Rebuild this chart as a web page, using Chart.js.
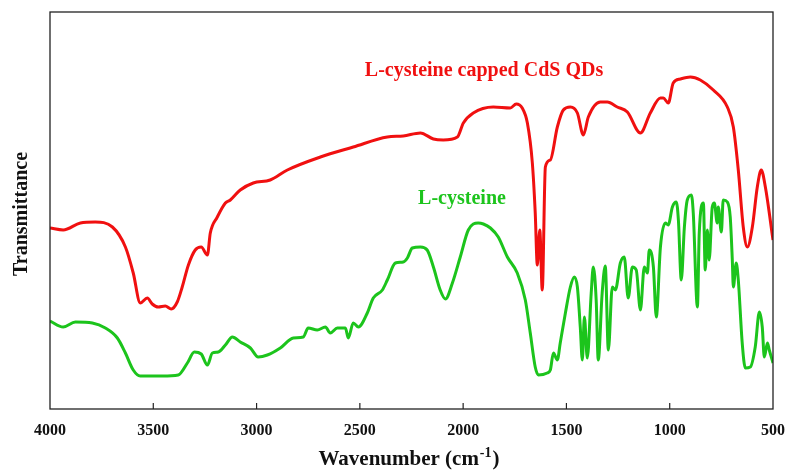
<!DOCTYPE html>
<html>
<head>
<meta charset="utf-8">
<script src="https://cdn.jsdelivr.net/npm/chart.js@4/dist/chart.umd.min.js"></script>
<style>
html,body{margin:0;padding:0;background:#fff;}
#wrap{width:788px;height:474px;position:relative;}
</style>
</head>
<body>
<div id="wrap"><canvas id="c" width="788" height="474"></canvas></div>
<script>
// FTIR spectra (wavenumber in cm-1, transmittance in arbitrary units)
const redWavenumbers = [4000,3936,3853,3781,3698,3635,3597,3563,3529,3505,3476,3442,3413,3384,3360,3330,3297,3268,3238,3224,3190,3151,3127,3079,3016,2934,2851,2691,2532,2367,2290,2207,2144,2096,2028,1999,1951,1854,1772,1743,1714,1689,1665,1651,1641,1629,1617,1602,1578,1544,1515,1481,1447,1418,1394,1336,1302,1254,1205,1142,1094,1045,1031,1007,983,949,900,852,789,721,692,668,644,624,600,576,557,537,500];
const redValues      = [181,179,186,187,182,162,136,106,111,105,102,103,100,107,122,144,159,162,154,176,192,206,209,219,226,229,239,252,262,272,273,276,270,269,272,286,296,302,301,305,301,286,246,196,144,179,119,242,249,282,299,302,296,274,292,307,307,302,297,276,296,311,311,306,326,330,332,329,319,302,282,239,182,162,182,222,239,222,169];

const greenWavenumbers = [4000,3936,3877,3795,3732,3674,3635,3597,3563,3456,3379,3335,3301,3268,3238,3214,3185,3151,3117,3079,3030,2992,2948,2885,2822,2774,2750,2706,2667,2643,2609,2570,2556,2532,2507,2464,2435,2391,2367,2328,2290,2270,2246,2207,2174,2144,2111,2086,2052,2014,1975,1927,1902,1868,1830,1786,1738,1699,1675,1651,1636,1593,1578,1563,1544,1530,1505,1481,1462,1447,1433,1423,1413,1399,1380,1370,1356,1346,1327,1312,1297,1278,1263,1239,1220,1201,1181,1162,1142,1123,1108,1099,1079,1065,1045,1021,1007,987,968,958,944,929,915,895,886,866,857,837,828,818,809,794,784,770,765,750,741,721,707,697,692,678,668,649,634,610,586,566,552,542,527,518,500];
const greenValues      = [88,82,87,86,81,71,56,39,33,33,34,46,57,55,44,56,57,64,72,67,61,52,54,61,71,72,81,79,82,76,81,81,71,86,82,96,111,119,129,146,147,151,161,162,159,142,119,110,126,152,179,186,185,181,172,152,136,109,76,42,34,36,39,56,49,66,96,122,132,122,82,49,92,51,116,142,109,49,116,143,59,122,119,146,152,111,142,139,99,142,136,159,142,92,162,186,184,202,207,189,129,182,209,214,196,102,176,206,139,179,149,202,206,186,202,177,209,207,192,149,122,146,129,66,41,42,62,97,82,52,66,59,46];

const xTicks = [4000,3500,3000,2500,2000,1500,1000,500];
const redLabel = "L-cysteine capped CdS QDs";
const greenLabel = "L-cysteine";
const yTitle = "Transmittance";
const xTitleMain = "Wavenumber (cm";
const xTitleSup = "-1";
const xTitleEnd = ")";

const RED = "rgb(240,16,16)";
const GREEN = "rgb(28,196,28)";
const SERIF = "'Liberation Serif','Times New Roman',serif";

function pts(xs, ys){ return xs.map((x,i)=>({x:x, y:ys[i]})); }

const decor = {
  id:'decor',
  afterDraw(chart){
    const ctx = chart.ctx, a = chart.chartArea, xs = chart.scales.x;
    ctx.save();
    // frame
    ctx.strokeStyle = '#222';
    ctx.lineWidth = 1.3;
    ctx.strokeRect(a.left, a.top, a.right - a.left, a.bottom - a.top);
    // inward ticks
    ctx.lineWidth = 1.2;
    xTicks.forEach(v=>{
      const px = xs.getPixelForValue(v);
      if (px > a.left + 2 && px < a.right - 2){
        ctx.beginPath(); ctx.moveTo(px, a.bottom); ctx.lineTo(px, a.bottom - 6); ctx.stroke();
      }
    });
    // series labels
    ctx.textAlign = 'center'; ctx.textBaseline = 'middle';
    ctx.font = "bold 20px " + SERIF;
    ctx.fillStyle = RED;
    ctx.fillText(redLabel, 484, 71);
    ctx.fillStyle = GREEN;
    ctx.fillText(greenLabel, 462, 199);
    // x title with superscript
    ctx.fillStyle = '#111';
    const f1 = "bold 21px " + SERIF, f2 = "bold 14px " + SERIF;
    ctx.font = f1; const w1 = ctx.measureText(xTitleMain).width, w3 = ctx.measureText(xTitleEnd).width;
    ctx.font = f2; const w2 = ctx.measureText(xTitleSup).width;
    let x0 = 408 - (w1 + w2 + w3) / 2;
    ctx.textAlign = 'left'; ctx.textBaseline = 'alphabetic';
    ctx.font = f1; ctx.fillText(xTitleMain, x0, 465);
    ctx.font = f2; ctx.fillText(xTitleSup, x0 + w1 + 1, 457);
    ctx.font = f1; ctx.fillText(xTitleEnd, x0 + w1 + w2 + 2, 465);
    // y title
    ctx.translate(22, 214);
    ctx.rotate(-Math.PI/2);
    ctx.textAlign = 'center'; ctx.textBaseline = 'middle';
    ctx.font = "bold 20px " + SERIF;
    ctx.fillText(yTitle, 0, 0);
    ctx.restore();
  }
};

new Chart(document.getElementById('c'), {
  type: 'line',
  data: {
    datasets: [
      {label: redLabel, data: pts(redWavenumbers, redValues), borderColor: RED, borderWidth: 3, pointRadius: 0, cubicInterpolationMode: 'monotone', fill: false},
      {label: greenLabel, data: pts(greenWavenumbers, greenValues), borderColor: GREEN, borderWidth: 3, pointRadius: 0, cubicInterpolationMode: 'monotone', fill: false}
    ]
  },
  options: {
    responsive: false,
    animation: false,
    events: [],
    layout: {padding: {left: 0, right: 0, top: 12, bottom: 0}},
    plugins: {legend: {display: false}, tooltip: {enabled: false}},
    scales: {
      x: {
        type: 'linear', reverse: true, min: 500, max: 4000,
        afterBuildTicks: s => { s.ticks = xTicks.map(v => ({value: v})); },
        afterFit: s => { s.height = 65; s.paddingLeft = 0; s.paddingRight = 15; },
        grid: {display: false, drawTicks: false},
        border: {display: false},
        ticks: {font: {family: SERIF, size: 16, weight: 'bold'}, color: '#111', padding: 12, maxRotation: 0, autoSkip: false, callback: v => String(v)}
      },
      y: {
        min: 0, max: 397,
        afterFit: s => { s.width = 50; },
        grid: {display: false, drawTicks: false},
        border: {display: false},
        ticks: {display: false}
      }
    }
  },
  plugins: [decor]
});
</script>
</body>
</html>
